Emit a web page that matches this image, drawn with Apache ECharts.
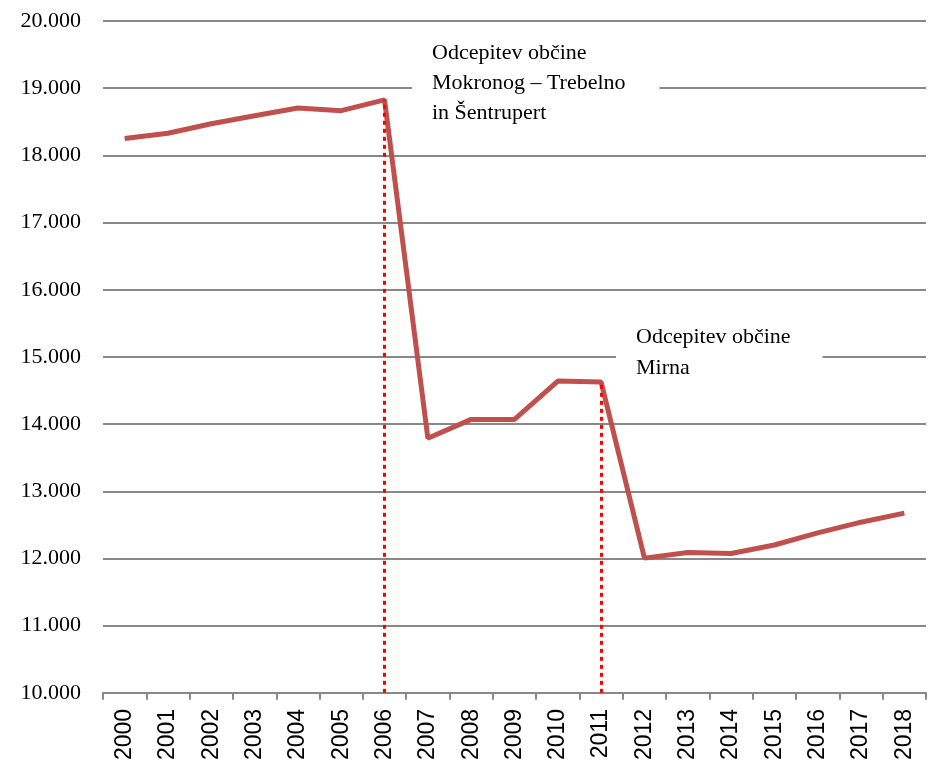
<!DOCTYPE html>
<html>
<head>
<meta charset="utf-8">
<script src="https://cdn.jsdelivr.net/npm/echarts@6/dist/echarts.min.js"></script>
<style>
  html, body { margin: 0; padding: 0; background: #fff; }
  #chart { width: 931px; height: 763px; }
</style>
</head>
<body>
<div id="chart"></div>
<script>
// podatki
var years = ['2000', '2001', '2002', '2003', '2004', '2005', '2006', '2007', '2008', '2009',
  '2010', '2011', '2012', '2013', '2014', '2015', '2016', '2017', '2018'];
var population = [18250, 18330, 18470, 18590, 18705, 18665, 18825, 13790, 14070, 14070,
  14640, 14625, 12005, 12090, 12075, 12200, 12380, 12540, 12675];
var splitYears = ['2006', '2011'];
var note1 = 'Odcepitev občine\nMokronog – Trebelno\nin Šentrupert';
var note2 = 'Odcepitev občine\nMirna';

var chart = echarts.init(document.getElementById('chart'));

var splitLines = splitYears.map(function (y) {
  var v = population[years.indexOf(y)];
  return [{ coord: [y, 10000] }, { coord: [y, v] }];
});

var option = {
  animation: false,
  grid: { left: 103, right: 5, top: 21, bottom: 70 },
  xAxis: {
    type: 'category',
    data: years,
    boundaryGap: true,
    axisLine: { lineStyle: { color: '#888', width: 2 } },
    axisTick: { show: true, length: 7, lineStyle: { color: '#888', width: 2 } },
    axisLabel: {
      rotate: 90, color: '#000', fontFamily: 'Liberation Sans', fontSize: 23, margin: 16
    }
  },
  yAxis: {
    type: 'value',
    min: 10000, max: 20000, interval: 1000,
    axisLine: { show: false },
    axisTick: { show: false },
    splitLine: { lineStyle: { color: '#888', width: 2 } },
    axisLabel: {
      color: '#000', fontFamily: 'Liberation Serif', fontSize: 22, margin: 22,
      formatter: function (v) { return (v / 1000).toFixed(3); }
    }
  },
  series: [{
    type: 'line',
    data: population,
    symbol: 'none',
    z: 3,
    lineStyle: { color: '#C0504D', width: 5 },
    markLine: {
      silent: true,
      symbol: 'none',
      label: { show: false },
      lineStyle: { color: '#ff0000', type: [4, 4], width: 3 },
      z: 4,
      data: splitLines
    }
  }],
  graphic: [
    {
      type: 'text', left: 412, top: 36, z: 10,
      style: {
        text: note1, fill: '#000', font: '22px "Liberation Serif"', lineHeight: 30,
        backgroundColor: '#fff', padding: [2, 34, 2, 20]
      }
    },
    {
      type: 'text', left: 616, top: 320, z: 10,
      style: {
        text: note2, fill: '#000', font: '22px "Liberation Serif"', lineHeight: 31,
        backgroundColor: '#fff', padding: [2, 32, 2, 20]
      }
    }
  ]
};

chart.setOption(option);
</script>
</body>
</html>
